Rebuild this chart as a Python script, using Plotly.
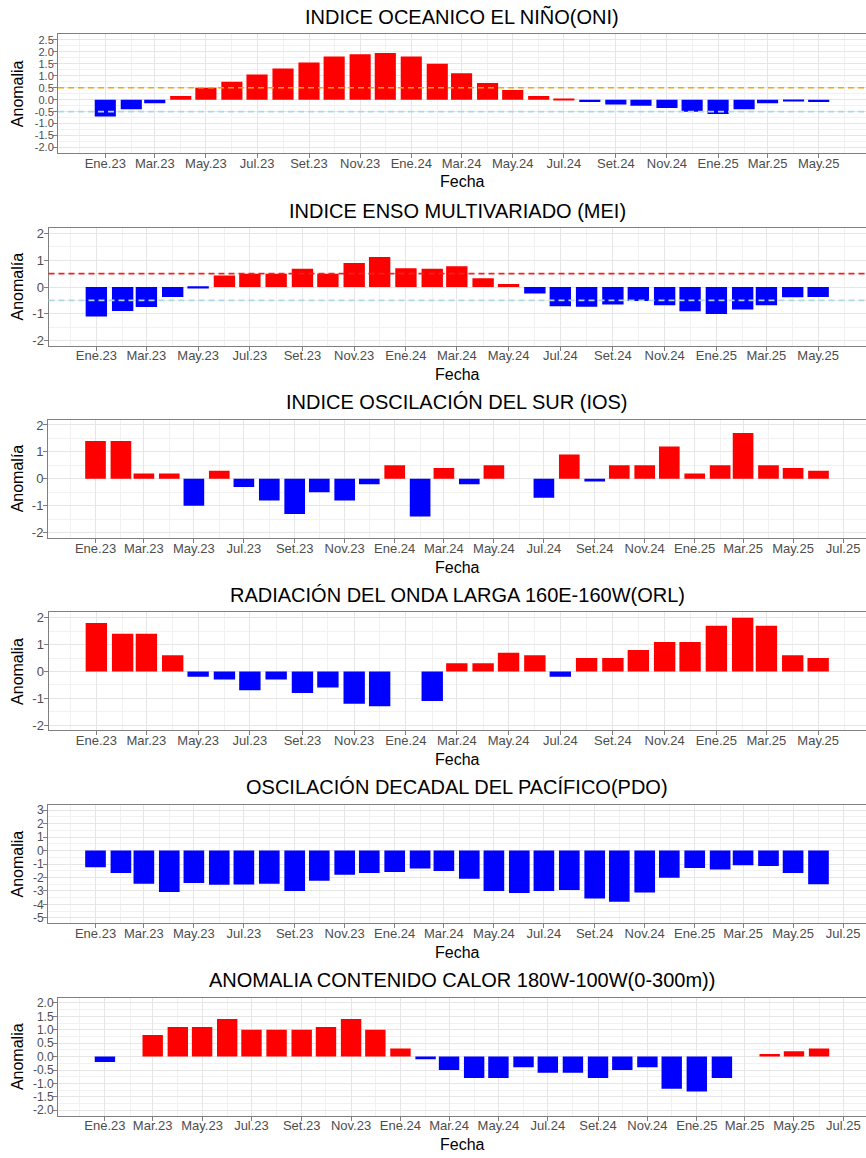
import pandas as pd
import plotly.graph_objects as go

W, H = 866, 1158

# Spanish month abbreviations used on the date axis
MESES = ["Ene", "Feb", "Mar", "Abr", "May", "Jun", "Jul", "Ago", "Set", "Oct", "Nov", "Dic"]
INICIO = "2023-01-01"

# Monthly anomalies (None = no data for that month)
oni = [-0.7, -0.4, -0.15, 0.15, 0.5, 0.75, 1.05, 1.3, 1.55, 1.8, 1.9, 1.95,
       1.8, 1.5, 1.1, 0.7, 0.4, 0.15, 0.04, -0.1, -0.2, -0.25, -0.35, -0.5,
       -0.6, -0.4, -0.15, -0.07, -0.1]
mei = [-1.1, -0.9, -0.75, -0.37, -0.06, 0.43, 0.5, 0.5, 0.68, 0.5, 0.9, 1.12,
       0.7, 0.68, 0.78, 0.33, 0.11, -0.24, -0.72, -0.74, -0.65, -0.52, -0.68, -0.91,
       -1.01, -0.84, -0.68, -0.38, -0.37]
ios = [1.4, 1.4, 0.2, 0.2, -1.0, 0.3, -0.3, -0.8, -1.3, -0.5, -0.8, -0.2,
       0.5, -1.4, 0.4, -0.2, 0.5, None, -0.7, 0.9, -0.1, 0.5, 0.5, 1.2,
       0.2, 0.5, 1.7, 0.5, 0.4, 0.3]
orl = [1.8, 1.4, 1.4, 0.6, -0.2, -0.3, -0.7, -0.3, -0.8, -0.6, -1.2, -1.3,
       None, -1.1, 0.3, 0.3, 0.7, 0.6, -0.2, 0.5, 0.5, 0.8, 1.1, 1.1,
       1.7, 2.0, 1.7, 0.6, 0.5]
pdo = [-1.24, -1.66, -2.46, -3.07, -2.41, -2.54, -2.52, -2.46, -3.0, -2.24, -1.8, -1.66,
       -1.59, -1.34, -1.51, -2.1, -3.0, -3.15, -3.0, -2.93, -3.56, -3.8, -3.12, -2.02,
       -1.29, -1.41, -1.1, -1.15, -1.66, -2.51]
acc = [-0.2, None, 0.8, 1.1, 1.1, 1.4, 1.0, 1.0, 1.0, 1.1, 1.4, 1.0,
       0.3, -0.1, -0.5, -0.8, -0.8, -0.4, -0.6, -0.6, -0.8, -0.5, -0.4, -1.2,
       -1.3, -0.8, None, 0.1, 0.2, 0.3]

# y-axis breaks for each panel
ticks_oni = [-2.0, -1.5, -1.0, -0.5, 0.0, 0.5, 1.0, 1.5, 2.0, 2.5]
ticks_ent = [-2, -1, 0, 1, 2]
ticks_pdo = [-5, -4, -3, -2, -1, 0, 1, 2, 3]
ticks_acc = [-2.0, -1.5, -1.0, -0.5, 0.0, 0.5, 1.0, 1.5, 2.0]

# reference thresholds (value, colour)
umbral_oni = [(0.5, "#FFA500"), (-0.5, "#ADD8E6")]
umbral_mei = [(0.5, "#F02020"), (-0.5, "#ADD8E6")]

paneles = [
    dict(titulo="INDICE OCEANICO EL NIÑO(ONI)", v=oni, yt="Anomalia", ticks=ticks_oni,
         dec=True, umbrales=umbral_oni, top=32.5, bot=151.5, left=58, yfs=11),
    dict(titulo="INDICE ENSO MULTIVARIADO (MEI)", v=mei, yt="Anomalía", ticks=ticks_ent,
         dec=False, umbrales=umbral_mei, top=227, bot=345, left=48.5, yfs=13),
    dict(titulo="INDICE OSCILACIÓN DEL SUR (IOS)", v=ios, yt="Anomalía", ticks=ticks_ent,
         dec=False, umbrales=[], top=419, bot=538, left=48, yfs=13),
    dict(titulo="RADIACIÓN DEL ONDA LARGA 160E-160W(ORL)", v=orl, yt="Anomalia", ticks=ticks_ent,
         dec=False, umbrales=[], top=612.5, bot=731, left=48.5, yfs=13),
    dict(titulo="OSCILACIÓN DECADAL DEL PACÍFICO(PDO)", v=pdo, yt="Anomalia", ticks=ticks_pdo,
         dec=False, umbrales=[], top=805.5, bot=924.5, left=48, yfs=12),
    dict(titulo="ANOMALIA CONTENIDO CALOR 180W-100W(0-300m))", v=acc, yt="Anomalia", ticks=ticks_acc,
         dec=True, umbrales=[], top=999, bot=1117.5, left=58, yfs=12),
]

DIA_MS = 86400000
ANCHO = 0.9 * 28  # bar width in days (0.9 x shortest month spacing)

tick_fechas = pd.date_range("2023-01-01", "2025-07-01", freq="2MS")
tick_txt = [f"{MESES[d.month - 1]}.{d.year % 100:02d}" for d in tick_fechas]
minor_fechas = pd.date_range("2022-11-01", "2025-09-01", freq="MS")

FUENTE = "Liberation Sans, Arial, sans-serif"
GRIS_TXT = "#4D4D4D"
BORDE = "#7F7F7F"

fig = go.Figure()
layout = dict(width=W, height=H, margin=dict(l=0, r=0, t=0, b=0),
              paper_bgcolor="white", plot_bgcolor="white", showlegend=False,
              font=dict(family=FUENTE), annotations=[], shapes=[])

for i, p in enumerate(paneles, start=1):
    sx = "" if i == 1 else str(i)
    fechas = pd.date_range(INICIO, periods=len(p["v"]), freq="MS")
    colores = ["#FF0000" if (v is not None and v > 0) else "#0000FF" for v in p["v"]]
    fig.add_trace(go.Bar(x=fechas, y=p["v"], width=[ANCHO * DIA_MS] * len(fechas),
                         marker=dict(color=colores, line=dict(width=0)),
                         xaxis="x" + sx, yaxis="y" + sx, hoverinfo="x+y"))

    # date scale with 5% expansion beyond the bar extents
    media = pd.Timedelta(days=ANCHO / 2)
    lo, hi = fechas[0] - media, fechas[-1] + media
    pad = (hi - lo) * 0.05
    xr = [(lo - pad).isoformat(), (hi + pad).isoformat()]

    t = p["ticks"]
    yspan = t[-1] - t[0]
    yr = [t[0] - 0.05 * yspan, t[-1] + 0.05 * yspan]
    paso = t[1] - t[0]
    ymin = [t[k] + paso / 2 for k in range(len(t) - 1)]
    ytxt = [f"{v:.1f}" if p["dec"] else f"{int(v)}" for v in t]

    d0 = [p["left"] / W, 1.0]
    d1 = [1 - p["bot"] / H, 1 - p["top"] / H]

    layout["xaxis" + sx] = dict(
        type="date", domain=d0, range=xr, anchor="y" + sx,
        tickmode="array", tickvals=list(tick_fechas), ticktext=tick_txt,
        tickfont=dict(size=13, color=GRIS_TXT, family=FUENTE),
        ticks="outside", ticklen=4, tickwidth=1, tickcolor=BORDE,
        ticklabelstandoff=-6,
        showgrid=True, gridcolor="#E6E6E6", gridwidth=1,
        minor=dict(tickmode="array", tickvals=list(minor_fechas), showgrid=True,
                   gridcolor="#F1F1F1", gridwidth=1, ticks=""),
        showline=True, linecolor=BORDE, linewidth=1, mirror=True,
        zeroline=False, fixedrange=True)
    layout["yaxis" + sx] = dict(
        domain=d1, range=yr, anchor="x" + sx,
        tickmode="array", tickvals=t, ticktext=ytxt,
        tickfont=dict(size=p["yfs"], color=GRIS_TXT, family=FUENTE),
        ticks="outside", ticklen=4, tickwidth=1, tickcolor=BORDE,
        ticklabelstandoff=-3,
        showgrid=True, gridcolor="#E6E6E6", gridwidth=1,
        minor=dict(tickmode="array", tickvals=ymin, showgrid=True,
                   gridcolor="#F1F1F1", gridwidth=1, ticks=""),
        showline=True, linecolor=BORDE, linewidth=1, mirror=False,
        zeroline=False, fixedrange=True)

    cx = (p["left"] + W) / 2 / W
    layout["annotations"] += [
        dict(text=p["titulo"], x=cx, y=1 - (p["top"] - 17.5) / H, xref="paper", yref="paper",
             xanchor="center", yanchor="middle", showarrow=False,
             font=dict(size=20, color="black", family=FUENTE)),
        dict(text="Fecha", x=cx, y=1 - (p["bot"] + 29) / H, xref="paper", yref="paper",
             xanchor="center", yanchor="middle", showarrow=False,
             font=dict(size=16, color="black", family=FUENTE)),
        dict(text=p["yt"], x=17.5 / W, y=1 - (p["top"] + p["bot"]) / 2 / H,
             xref="paper", yref="paper", xanchor="center", yanchor="middle",
             textangle=-90, showarrow=False,
             font=dict(size=16, color="black", family=FUENTE)),
    ]
    for val, col in p["umbrales"]:
        layout["shapes"].append(dict(
            type="line", xref=f"x{sx} domain", yref="y" + sx, x0=0, x1=1, y0=val, y1=val,
            line=dict(color=col, width=1.6, dash="6px,4px"), layer="above"))

fig.update_layout(**layout)
fig.write_html("out.html")
